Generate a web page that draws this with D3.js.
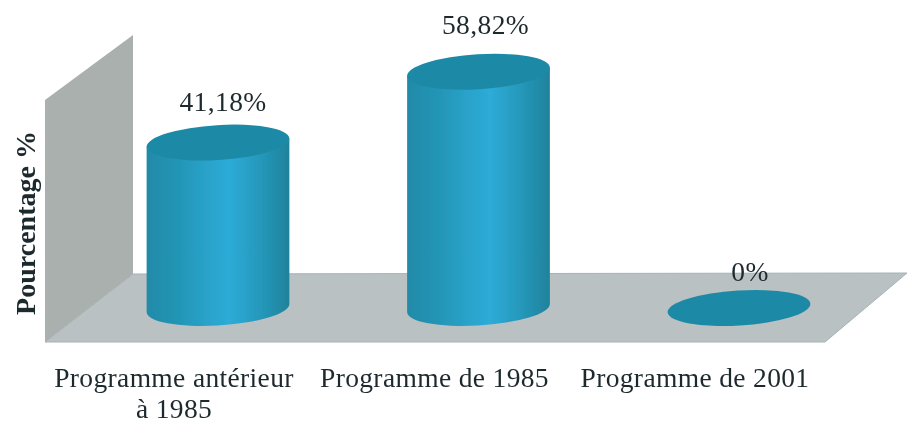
<!DOCTYPE html>
<html>
<head>
<meta charset="utf-8">
<script src="https://cdn.jsdelivr.net/npm/d3@7"></script>
<style>
  html, body { margin: 0; padding: 0; background: #fff; }
  svg { display: block; }
  text { font-family: "Liberation Serif", serif; fill: #1f2a2e; }
</style>
</head>
<body>
<div id="my_dataviz"></div>
<script>
// values
var categories = ["Programme antérieur|à 1985", "Programme de 1985", "Programme de 2001"];
var values = [41.18, 58.82, 0];
var valueLabels = ["41,18%", "58,82%", "0%"];
var yTitle = "Pourcentage %";

var width = 907, height = 421;

// geometry of the fake 3D box
var baseY = 308,
    rx = 71.5,
    ry = 17.5,
    tilt = -3.5;

var svg = d3.select("#my_dataviz")
  .append("svg")
    .attr("width", width)
    .attr("height", height);

var x = d3.scalePoint()
  .domain(categories)
  .range([218, 739]);

var y = d3.scaleLinear()
  .domain([0, 60])
  .range([baseY, baseY - 241]);

// soften everything a little, the original is a scan
var defs = svg.append("defs");
defs.append("filter").attr("id", "soft")
  .append("feGaussianBlur").attr("stdDeviation", 0.6);
defs.append("filter").attr("id", "softText")
  .append("feGaussianBlur").attr("stdDeviation", 0.35);

var grad = defs.append("linearGradient").attr("id", "cyl");
[[0, "#218aa8"], [0.2, "#2394b4"], [0.45, "#2aa4cc"], [0.58, "#2dabd8"], [0.8, "#2598ba"], [1, "#1f829c"]]
  .forEach(function(s) {
    grad.append("stop").attr("offset", s[0]).attr("stop-color", s[1]);
  });

var chart = svg.append("g").attr("filter", "url(#soft)");

// floor and back wall
var floorFront = y(0) + 34, floorBack = y(0) - 34;
chart.append("path")
  .attr("d", d3.line()([[45, floorFront], [133, floorBack], [907, floorBack - 1], [825, floorFront]]) + "Z")
  .attr("fill", "#bac1c2")
  .attr("stroke", "#a3b3b8")
  .attr("stroke-width", 1);

chart.append("path")
  .attr("d", d3.line()([[45, y(0) - 208], [133, y(0) - 273], [133, floorBack], [45, floorFront]]) + "Z")
  .attr("fill", "#a9b0ad");

// offset of the leftmost/rightmost point of the tilted ellipse
var th = tilt * Math.PI / 180;
var ext = Math.sqrt(rx * rx * Math.cos(th) * Math.cos(th) + ry * ry * Math.sin(th) * Math.sin(th));
var dy = (rx * rx - ry * ry) * Math.sin(th) * Math.cos(th) / ext;

var bars = chart.selectAll("g.bar")
  .data(categories.map(function(c, i) { return {cat: c, value: values[i]}; }))
  .enter().append("g")
    .attr("class", "bar");

// cylinder side
bars.filter(function(d) { return d.value > 0; })
  .append("path")
    .attr("d", function(d) {
      var cx = x(d.cat), top = y(d.value), base = y(0);
      return "M" + (cx - ext) + "," + (top - dy) +
        "L" + (cx - ext) + "," + (base - dy) +
        "A" + rx + "," + ry + " " + tilt + " 0 0 " + (cx + ext) + "," + (base + dy) +
        "L" + (cx + ext) + "," + (top + dy) + "Z";
    })
    .attr("fill", "url(#cyl)");

// top of the cylinder
bars.append("ellipse")
  .attr("rx", rx)
  .attr("ry", ry)
  .attr("transform", function(d) {
    return "translate(" + x(d.cat) + "," + y(d.value) + ") rotate(" + tilt + ")";
  })
  .attr("fill", "#1f8aa6");

var labels = svg.append("g").attr("filter", "url(#softText)");

// value labels
var labelDx = [5, 7, 11], labelDy = [-32, -38, -27];
labels.selectAll("text.val")
  .data(values)
  .enter().append("text")
    .attr("class", "val")
    .attr("x", function(d, i) { return x(categories[i]) + labelDx[i]; })
    .attr("y", function(d, i) { return y(d) + labelDy[i]; })
    .attr("text-anchor", "middle")
    .attr("font-size", 27.5)
    .attr("letter-spacing", 0.4)
    .text(function(d, i) { return valueLabels[i]; });

// category labels
var catLabels = labels.selectAll("text.cat")
  .data(categories)
  .enter().append("text")
    .attr("class", "cat")
    .attr("x", function(d, i) { return x(d) - 44; })
    .attr("y", 387)
    .attr("text-anchor", "middle")
    .attr("font-size", 27.5)
    .attr("letter-spacing", 0.35);

catLabels.selectAll("tspan")
  .data(function(d) { return d.split("|"); })
  .enter().append("tspan")
    .attr("x", function() { return d3.select(this.parentNode).attr("x"); })
    .attr("dy", function(d, i) { return i ? 31 : 0; })
    .text(function(d) { return d; });

// axis title
labels.append("text")
  .attr("transform", "translate(35,223) rotate(-90)")
  .attr("text-anchor", "middle")
  .attr("font-size", 28)
  .attr("font-weight", "bold")
  .text(yTitle);
</script>
</body>
</html>
